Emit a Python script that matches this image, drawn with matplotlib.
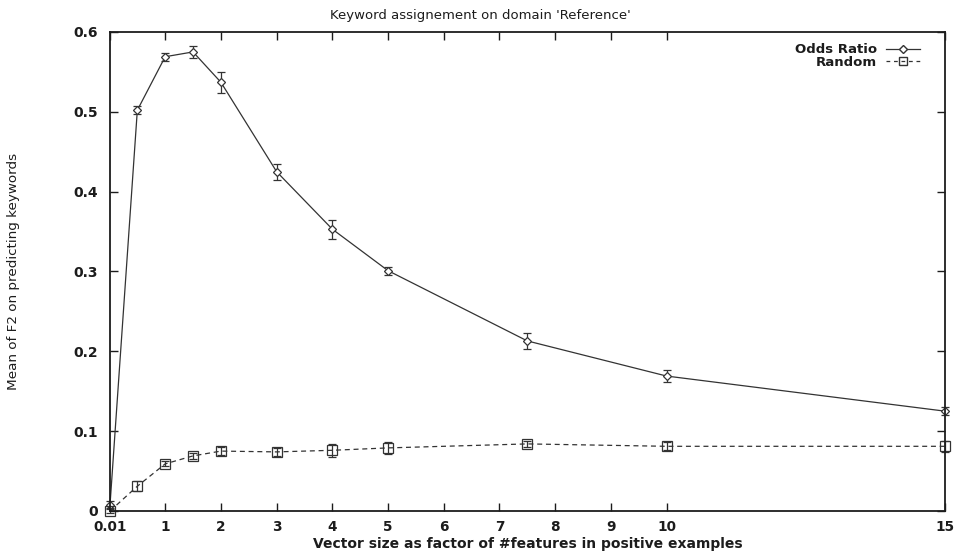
import numpy as np
import matplotlib.pyplot as plt
from matplotlib.lines import Line2D

plt.rcParams['font.family'] = ['DejaVu Sans']

# data
x_vals = [0.01, 0.5, 1, 1.5, 2, 3, 4, 5, 7.5, 10, 15]
odds_mean = [0.008, 0.502, 0.569, 0.575, 0.537, 0.425, 0.353, 0.301, 0.213, 0.169, 0.125]
odds_err = [0.004, 0.005, 0.005, 0.008, 0.013, 0.010, 0.012, 0.005, 0.010, 0.008, 0.005]
rand_mean = [0.0, 0.031, 0.059, 0.069, 0.075, 0.074, 0.076, 0.079, 0.084, 0.081, 0.081]
rand_err = [0.003, 0.006, 0.003, 0.004, 0.005, 0.005, 0.008, 0.008, 0.004, 0.005, 0.007]
xtick_pos = [0.01, 1, 2, 3, 4, 5, 6, 7, 8, 9, 10, 15]
xtick_lab = ['0.01', '1', '2', '3', '4', '5', '6', '7', '8', '9', '10', '15']
ytick_pos = [0, 0.1, 0.2, 0.3, 0.4, 0.5, 0.6]
ytick_lab = ['0', '0.1', '0.2', '0.3', '0.4', '0.5', '0.6']

ink = '#1c1c1c'
line_col = '#333333'
fig = plt.figure(figsize=(9.61, 5.53), dpi=100)
ax = fig.add_axes([0.1145, 0.076, 0.869, 0.8662])

ax.errorbar(x_vals, odds_mean, yerr=odds_err, color=line_col, lw=0.9, marker='D', ms=4.5,
            mfc='white', mec=line_col, mew=0.9, capsize=3, elinewidth=0.9, clip_on=False)
ax.errorbar(x_vals, rand_mean, yerr=rand_err, color=line_col, lw=0.9, ls=(0, (4, 3)), marker='s', ms=6.5,
            mfc='none', mec=line_col, mew=0.9, capsize=3, elinewidth=0.9, clip_on=False)

ax.set_xlim(0.01, 15)
ax.set_ylim(0, 0.6)
ax.set_xticks(xtick_pos)
ax.set_xticklabels(xtick_lab, fontsize=9.8, fontweight='bold')
ax.set_yticks(ytick_pos)
ax.set_yticklabels(ytick_lab, fontsize=10, fontweight='bold')
ax.tick_params(direction='in', length=6, width=1, top=True, right=True, colors=ink)
ax.tick_params(axis='x', pad=6.5)
ax.tick_params(axis='y', pad=9)
for s in ax.spines.values():
    s.set_linewidth(1.3)
    s.set_color(ink)

fig.text(0.5, 1 - 15 / 553, "Keyword assignement on domain 'Reference'", fontsize=9.5,
         ha='center', va='center', color=ink)
ax.set_xlabel('Vector size as factor of #features in positive examples', fontsize=10,
              fontweight='bold', color=ink)
ax.xaxis.set_label_coords(0.5, -0.0545)
ax.set_ylabel('Mean of F2 on predicting keywords', fontsize=9.7, color=ink)
ax.yaxis.set_label_coords(-0.108, 0.5)

handles = [Line2D([], [], color=line_col, lw=0.9, marker='D', ms=4, mfc='white', mec=line_col),
           Line2D([], [], color=line_col, lw=0.9, ls=(0, (3, 3)), marker='s', ms=6, mfc='none', mec=line_col)]
leg = ax.legend(handles, ['Odds Ratio', 'Random'], loc='upper right', bbox_to_anchor=(0.978, 0.99),
                frameon=False, markerfirst=False, prop={'size': 9.5, 'weight': 'bold'},
                handlelength=2.6, handletextpad=0.7, borderpad=0, labelspacing=-0.05)
for t in leg.get_texts():
    t.set_color(ink)

fig.savefig('out.png', dpi=100)
